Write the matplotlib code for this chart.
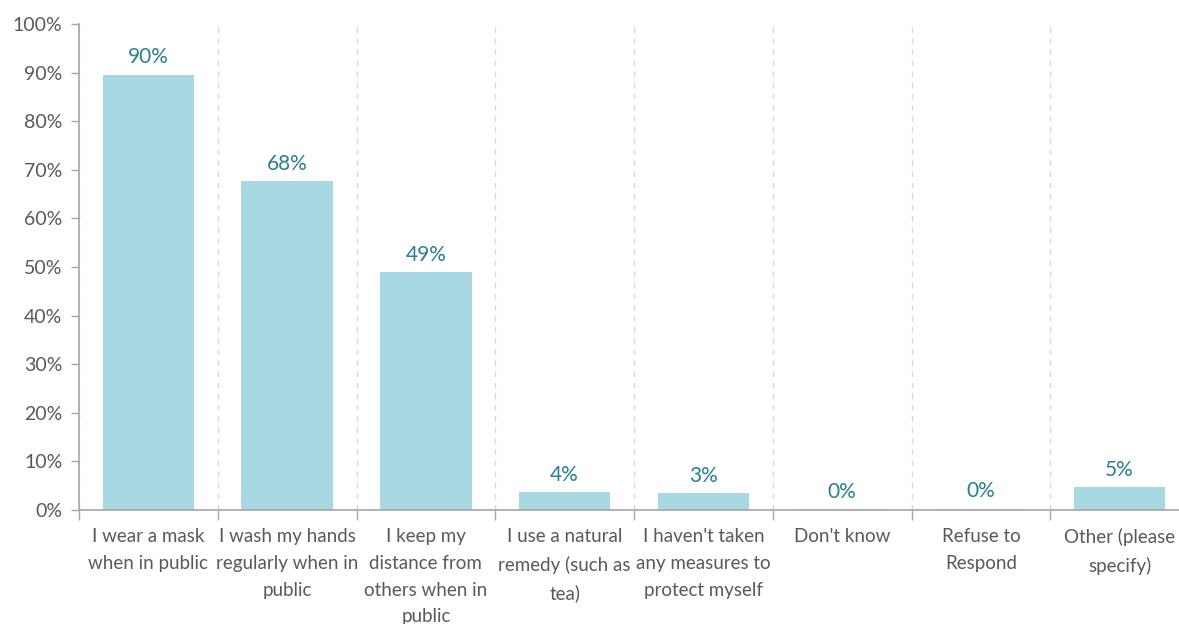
import matplotlib.pyplot as plt
from matplotlib.ticker import MultipleLocator, FixedLocator, PercentFormatter

categories = [
    "I wear a mask\nwhen in public",
    "I wash my hands\nregularly when in\npublic",
    "I keep my\ndistance from\nothers when in\npublic",
    "I use a natural\nremedy (such as\ntea)",
    "I haven't taken\nany measures to\nprotect myself",
    "Don't know",
    "Refuse to\nRespond",
    "Other (please\nspecify)",
]
values = [89.6, 67.7, 48.9, 3.7, 3.4, 0.2, 0.3, 4.7]

bar_color = "#A8D8E2"
label_color = "#2B7F8E"
text_color = "#595959"
axis_color = "#A6A6A6"

plt.rcParams['font.family'] = ['Lato', 'DejaVu Sans']

fig = plt.figure(figsize=(11.79, 6.24), dpi=100)
ax = fig.add_axes([79 / 1179, 114 / 624, 1110 / 1179, 486 / 624])

x = list(range(len(categories)))
bars = ax.bar(x, values, width=0.66, color=bar_color, zorder=2)

for xi, v in zip(x, values):
    ax.text(xi, v + 1.5, f"{round(v)}%", ha="center", va="bottom",
            fontsize=15, color=label_color)

ax.set_xlim(-0.5, len(categories) - 0.5)
ax.set_ylim(0, 100)
ax.yaxis.set_major_locator(MultipleLocator(10))
ax.yaxis.set_major_formatter(PercentFormatter(decimals=0))

ax.set_xticks(x)
ax.set_xticklabels(categories, fontsize=13.5, color=text_color, linespacing=1.7)
ax.tick_params(axis="x", length=0, pad=13)
ax.xaxis.set_minor_locator(FixedLocator([i - 0.5 for i in range(len(categories) + 1)]))
ax.tick_params(axis="x", which="minor", length=7, color=axis_color, width=1)
ax.tick_params(axis="y", labelsize=14, labelcolor=text_color, length=6,
               color=axis_color, width=1, pad=6)

ax.grid(axis="x", which="minor", linestyle=(0, (4, 4)), color="#D9D9D9",
        linewidth=1, zorder=0)
ax.grid(axis="x", which="major", visible=False)

for side in ["top", "right"]:
    ax.spines[side].set_visible(False)
for side in ["left", "bottom"]:
    ax.spines[side].set_color(axis_color)
    ax.spines[side].set_linewidth(1.2)

fig.savefig("out.png", dpi=100)
